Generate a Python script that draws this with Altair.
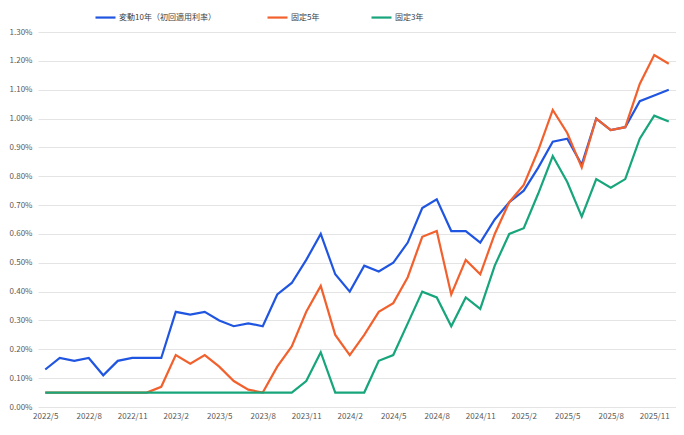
import altair as alt
import pandas as pd

months = []
for y in range(2022, 2026):
    for m in range(1, 13):
        if (y == 2022 and m < 5):
            continue
        months.append(f"{y}/{m}")

hendo10 = [0.13, 0.17, 0.16, 0.17, 0.11, 0.16, 0.17, 0.17, 0.17, 0.33,
           0.32, 0.33, 0.30, 0.28, 0.29, 0.28, 0.39, 0.43, 0.51, 0.60,
           0.46, 0.40, 0.49, 0.47, 0.50, 0.57, 0.69, 0.72, 0.61, 0.61,
           0.57, 0.65, 0.71, 0.75, 0.83, 0.92, 0.93, 0.84, 1.00, 0.96,
           0.97, 1.06, 1.08, 1.10]
kotei5 = [0.05, 0.05, 0.05, 0.05, 0.05, 0.05, 0.05, 0.05, 0.07, 0.18,
          0.15, 0.18, 0.14, 0.09, 0.06, 0.05, 0.14, 0.21, 0.33, 0.42,
          0.25, 0.18, 0.25, 0.33, 0.36, 0.45, 0.59, 0.61, 0.39, 0.51,
          0.46, 0.60, 0.71, 0.77, 0.89, 1.03, 0.95, 0.83, 1.00, 0.96,
          0.97, 1.12, 1.22, 1.19]
kotei3 = [0.05, 0.05, 0.05, 0.05, 0.05, 0.05, 0.05, 0.05, 0.05, 0.05,
          0.05, 0.05, 0.05, 0.05, 0.05, 0.05, 0.05, 0.05, 0.09, 0.19,
          0.05, 0.05, 0.05, 0.16, 0.18, 0.29, 0.40, 0.38, 0.28, 0.38,
          0.34, 0.49, 0.60, 0.62, 0.74, 0.87, 0.78, 0.66, 0.79, 0.76,
          0.79, 0.93, 1.01, 0.99]

series_names = ["変動10年（初回適用利率）", "固定5年", "固定3年"]
series_colors = ["#1f55e0", "#f2612d", "#17a57b"]
tick_months = ["2022/5", "2022/8", "2022/11", "2023/2", "2023/5", "2023/8",
               "2023/11", "2024/2", "2024/5", "2024/8", "2024/11", "2025/2",
               "2025/5", "2025/8", "2025/11"]
y_ticks = [round(i / 1000, 4) for i in range(0, 14)]

rows = []
for name, vals in zip(series_names, [hendo10, kotei5, kotei3]):
    for i, (mo, v) in enumerate(zip(months, vals)):
        rows.append({"month": mo, "rate": v / 100, "series": name, "order": i})
df = pd.DataFrame(rows)

font = "Noto Sans CJK JP"

chart = alt.Chart(df).mark_line(strokeWidth=2.2).encode(
    x=alt.X("month:O", sort=months,
            scale=alt.Scale(type="point", padding=0.5),
            axis=alt.Axis(values=tick_months, labelAngle=0, title=None,
                          ticks=False, domain=False, grid=False,
                          labelFontSize=8, labelColor="#595959",
                          labelFont=font, labelPadding=5)),
    y=alt.Y("rate:Q", scale=alt.Scale(domain=[0, 0.013], nice=False),
            axis=alt.Axis(values=y_ticks, format=".2%", title=None,
                          ticks=False, domain=False, grid=True,
                          gridColor="#e4e4e4", gridWidth=1,
                          labelFontSize=8, labelColor="#595959",
                          labelFont=font, labelPadding=6)),
    color=alt.Color("series:N",
                    scale=alt.Scale(domain=series_names, range=series_colors),
                    legend=alt.Legend(orient="none", direction="horizontal",
                                      legendX=56, legendY=-26, title=None,
                                      symbolType="stroke", symbolSize=400,
                                      symbolStrokeWidth=2.2, columnPadding=47,
                                      labelFontSize=8, labelFont=font,
                                      labelColor="#404040", labelOffset=2,
                                      padding=0)),
    order="order:Q",
    detail="series:N",
).properties(
    width=638, height=375,
    autosize=alt.AutoSizeParams(type="none"),
    padding={"left": 30, "top": 24, "right": 0, "bottom": 20},
).configure(background="white").configure_view(stroke=None)

chart.save("out.html", embed_options={"renderer": "svg", "actions": False})
